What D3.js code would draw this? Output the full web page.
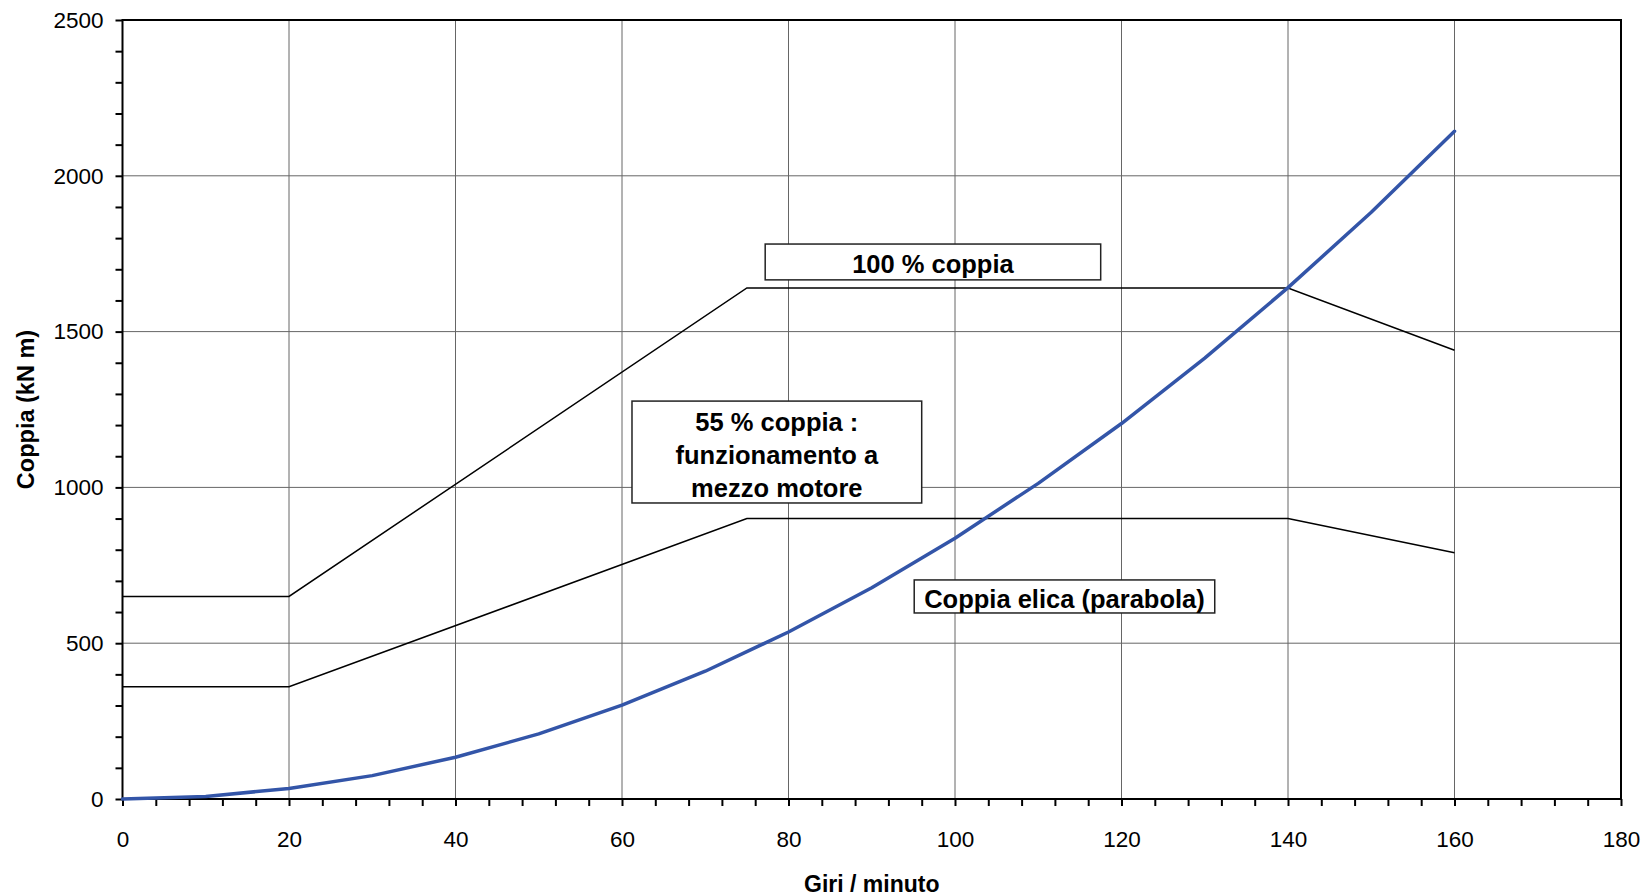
<!DOCTYPE html>
<html><head><meta charset="utf-8">
<script src="https://cdn.jsdelivr.net/npm/d3@7"></script>
<style>
html,body{margin:0;padding:0;background:#fff;}
svg{display:block;font-family:"Liberation Sans",Arial,Helvetica,sans-serif;}
</style></head>
<body>
<svg id="chart" width="1646" height="896"></svg>
<script>
// ---- data ----
const rpm = [0,10,20,30,40,50,60,70,80,90,100,110,120,130,140,150,160];
const propellerTorque = [0,8,34,75,134,209,301,410,536,678,837,1013,1205,1415,1641,1883,2143];
const fullRpm = [0,20,75,140,160];
const fullTorque = [650,650,1640,1640,1440];
const halfRpm = [0,20,75,140,160];
const halfTorque = [360,360,900,900,790];
const xTicks = [0,20,40,60,80,100,120,140,160,180];
const yTicks = [0,500,1000,1500,2000,2500];
const xTitle = "Giri / minuto";
const yTitle = "Coppia (kN m)";
const labelTexts = [["100 % coppia"],["55 % coppia :","funzionamento a","mezzo motore"],["Coppia elica (parabola)"]];
const labelBoxes = [[77.2,117.5,1781,1666],[61.2,96.0,1277,950],[95.1,131.2,703,597]];

// ---- layout ----
const W=1646,H=896;
const m={left:122.5,top:20,right:25,bottom:97};
const svg=d3.select("#chart");
const x=d3.scaleLinear().domain([0,180]).range([m.left,W-m.right]);
const y=d3.scaleLinear().domain([0,2500]).range([H-m.bottom,m.top]);

// grid
const g=svg.append("g");
g.selectAll("line.vg").data(xTicks.filter(d=>d>0&&d<180)).join("line")
 .attr("x1",d=>x(d)).attr("x2",d=>x(d)).attr("y1",y(0)).attr("y2",y(2500))
 .attr("stroke","#666").attr("stroke-width",1);
g.selectAll("line.hg").data(yTicks.filter(d=>d>0&&d<2500)).join("line")
 .attr("x1",x(0)).attr("x2",x(180)).attr("y1",d=>y(d)).attr("y2",d=>y(d))
 .attr("stroke","#666").attr("stroke-width",1);

// axes
const xAxis=d3.axisBottom(x).tickValues(d3.range(0,181,4)).tickSize(7).tickPadding(4)
 .tickFormat(d=>xTicks.includes(d)?d:"");
const yAxis=d3.axisLeft(y).tickValues(d3.range(0,2501,100)).tickSize(7).tickPadding(12)
 .tickFormat(d=>yTicks.includes(d)?d:"");
const gx=svg.append("g").attr("transform",`translate(0,${y(0)})`).call(xAxis);
const gy=svg.append("g").attr("transform",`translate(${x(0)},0)`).call(yAxis);
[gx,gy].forEach(a=>{
  a.select(".domain").remove();
  a.selectAll(".tick line").attr("stroke","#000").attr("stroke-width",2);
  a.selectAll(".tick text").attr("font-size",22.5).attr("fill","#000")
   .attr("font-family","'Liberation Sans',Arial,Helvetica,sans-serif");
});
gx.selectAll(".tick text").attr("dy","1.64em");

// frame
svg.append("rect").attr("x",x(0)).attr("y",y(2500)).attr("width",x(180)-x(0)).attr("height",y(0)-y(2500))
 .attr("fill","none").attr("stroke","#000").attr("stroke-width",2);

// lines
const line=(xs,ys)=>d3.line().x((d,i)=>x(xs[i])).y(d=>y(d))(ys);
svg.append("path").attr("d",line(fullRpm,fullTorque)).attr("fill","none").attr("stroke","#000").attr("stroke-width",1.5);
svg.append("path").attr("d",line(halfRpm,halfTorque)).attr("fill","none").attr("stroke","#000").attr("stroke-width",1.5);
svg.append("path").attr("d",line(rpm,propellerTorque)).attr("fill","none").attr("stroke","#3355a8").attr("stroke-width",3.5)
 .attr("stroke-linejoin","round").attr("stroke-linecap","round");

// annotation boxes
labelBoxes.forEach((b,i)=>{
  const x0=x(b[0]),x1=x(b[1]),y0=y(b[2]),y1=y(b[3]);
  svg.append("rect").attr("x",x0).attr("y",y0).attr("width",x1-x0).attr("height",y1-y0)
   .attr("fill","#fff").attr("stroke","#222").attr("stroke-width",1.5);
  const lines=labelTexts[i], cy=(y0+y1)/2, lh=33;
  lines.forEach((t,k)=>{
    svg.append("text").attr("x",(x0+x1)/2).attr("y",cy+(k-(lines.length-1)/2)*lh)
     .attr("dy","0.45em").attr("text-anchor","middle").attr("font-size",25.5).attr("font-weight","bold").text(t);
  });
});

// titles
svg.append("text").attr("x",(x(0)+x(180))/2).attr("y",892).attr("text-anchor","middle")
 .attr("font-size",23).attr("font-weight","bold").text(xTitle);
svg.append("text").attr("transform",`translate(34,${(y(0)+y(2500))/2}) rotate(-90)`).attr("text-anchor","middle")
 .attr("font-size",23.5).attr("font-weight","bold").text(yTitle);
</script>
</body></html>
